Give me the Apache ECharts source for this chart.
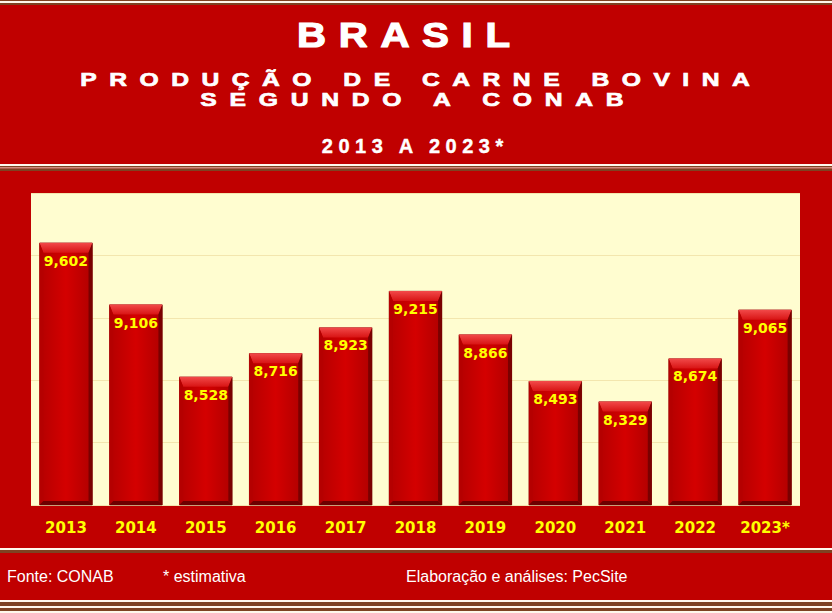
<!DOCTYPE html>
<html>
<head>
<meta charset="utf-8">
<script src="https://cdn.jsdelivr.net/npm/echarts@6/dist/echarts.min.js"></script>
<style>
html,body{margin:0;padding:0;background:#C00000;}
#chart{width:832px;height:613px;}
</style>
</head>
<body>
<div id="chart"></div>
<script>
// ---- data ----
const categories = ['2013','2014','2015','2016','2017','2018','2019','2020','2021','2022','2023*'];
const production = [9602, 9106, 8528, 8716, 8923, 9215, 8866, 8493, 8329, 8674, 9065];
const yMin = 7500, yMax = 10000, yStep = 500;

const titleText = 'BRASIL';
const subtitle1 = 'PRODUÇÃO DE CARNE BOVINA';
const subtitle2 = 'SEGUNDO A CONAB';
const periodText = '2013 A 2023*';
const sourceText = 'Fonte: CONAB';
const noteText = '* estimativa';
const creditText = 'Elaboração e análises: PecSite';

// ---- styling ----
const SPACING = {};
SPACING[titleText] = 11;
SPACING[subtitle1] = 9.6;
SPACING[subtitle2] = 9.8;
SPACING[periodText] = 5.5;

const WHITE = '#FFF8EC', BROWN = '#7E4222';
function band(y, h, c){ return {type:'rect', shape:{x:0, y:y, width:832, height:h}, style:{fill:c}, silent:true, z:1}; }
function title(txt, cx, cy, font, sx, lw){
  const sp = SPACING[txt] || 0;
  return {type:'text', x: cx + sp*sx/2, y: cy, scaleX:sx, scaleY:1, z:10, silent:true,
    style:{text:txt, fill:'#FFFFFF', stroke:'#FFFFFF', lineWidth:lw, font:font, textAlign:'center', textVerticalAlign:'middle'}};
}
function foot(txt, x){
  return {type:'text', x:x, y:576, z:10, silent:true,
    style:{text:txt, fill:'#FFFFFF', font:'16px Arial, "Liberation Sans", sans-serif', textAlign:'left', textVerticalAlign:'middle'}};
}

const chart = echarts.init(document.getElementById('chart'), null, {renderer:'svg'});

const bevelData = production.map((v,i)=>[i, v]);

chart.setOption({
  backgroundColor:'#C00000',
  animation:false,
  grid:{left:31, right:32, top:193, bottom:108, show:true, backgroundColor:'#FFFDD0', borderWidth:0},
  xAxis:{
    type:'category', data:categories,
    axisLine:{show:false}, axisTick:{show:false},
    axisLabel:{color:'#FFFF00', fontFamily:'"DejaVu Sans", Verdana, sans-serif', fontWeight:'bold', fontSize:15, margin:15}
  },
  yAxis:{
    type:'value', min:yMin, max:yMax, interval:yStep,
    axisLabel:{show:false}, axisLine:{show:false}, axisTick:{show:false},
    splitLine:{show:true, lineStyle:{color:'#F3E6AE', width:1}}
  },
  series:[
    {
      type:'bar', data:production, barCategoryGap:'24%', z:2,
      itemStyle:{
        color:new echarts.graphic.LinearGradient(0,0,1,0,[
          {offset:0, color:'#B40000'},{offset:0.5, color:'#D40000'},{offset:1, color:'#B00000'}]),
        borderColor:'#6A0000', borderWidth:0.6
      },
      label:{show:true, position:'insideTop', distance:11, color:'#FFFF00',
        fontFamily:'"DejaVu Sans", Verdana, sans-serif', fontWeight:'bold', fontSize:14,
        formatter:p=>p.value.toLocaleString('en-US')}
    },
    {
      type:'custom', data:bevelData, z:3, silent:true,
      renderItem:function(params, api){
        const top = api.coord([api.value(0), api.value(1)]);
        const bot = api.coord([api.value(0), yMin]);
        const w = api.size([1,0])[0]*0.76;
        const x0 = top[0]-w/2, x1 = top[0]+w/2, y0 = top[1], y1 = bot[1];
        const t = 10, s = 4, b = 4;
        return {type:'group', children:[
          {type:'polygon', shape:{points:[[x0,y0],[x1,y0],[x1-s,y0+t],[x0+s,y0+t]]},
            style:{fill:new echarts.graphic.LinearGradient(0,0,0,1,[
              {offset:0, color:'#F24A4A'},{offset:1, color:'#D81414'}])}},
          {type:'polygon', shape:{points:[[x0,y0],[x0+s,y0+t],[x0+s,y1-b],[x0,y1]]},
            style:{fill:'#B50000'}},
          {type:'polygon', shape:{points:[[x1,y0],[x1,y1],[x1-s,y1-b],[x1-s,y0+t]]},
            style:{fill:'#7A0000'}},
          {type:'polygon', shape:{points:[[x0,y1],[x0+s,y1-b],[x1-s,y1-b],[x1,y1]]},
            style:{fill:'#6E0000'}}
        ]};
      }
    }
  ],
  graphic:[
    band(0,1,BROWN), band(1,2,WHITE), band(3,2,BROWN),
    band(164,2,WHITE), band(166,1.5,BROWN), band(167.5,1,WHITE), band(168.5,2.5,BROWN),
    band(548,2,WHITE), band(550,3,BROWN),
    band(600,2,WHITE), band(602,4,BROWN), band(606,2,WHITE), band(608,3,BROWN), band(611,2,WHITE),
    title(titleText, 403.5, 34.5, 'bold 35px "Liberation Sans", Arial, sans-serif', 1.15, 1.2),
    title(subtitle1, 415, 80, 'bold 19px "Liberation Sans", Arial, sans-serif', 1.3, 0.7),
    title(subtitle2, 412, 99.5, 'bold 19px "Liberation Sans", Arial, sans-serif', 1.3, 0.7),
    title(periodText, 412.5, 145.5, 'bold 20px "Liberation Sans", Arial, sans-serif', 1, 0.4),
    foot(sourceText, 7), foot(noteText, 163), foot(creditText, 406)
  ]
});

function applySpacing(){
  document.querySelectorAll('#chart text').forEach(function(t){
    const s = SPACING[t.textContent];
    if (s != null) t.setAttribute('letter-spacing', s + 'px');
  });
}
applySpacing();
chart.on('finished', applySpacing);
</script>
</body>
</html>
